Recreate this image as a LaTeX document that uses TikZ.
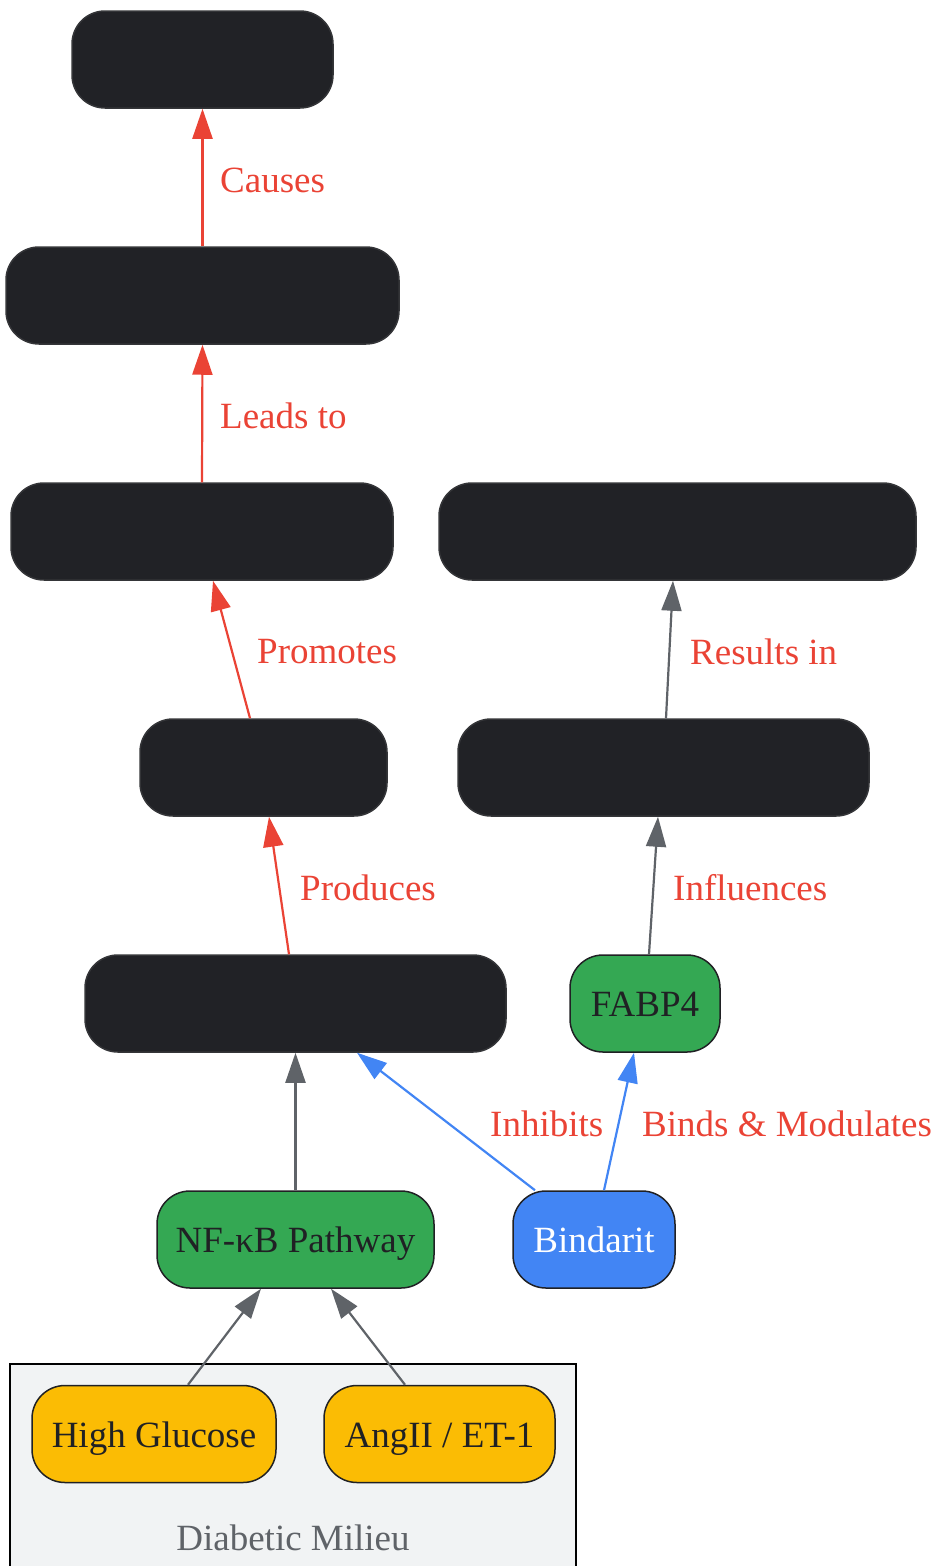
\documentclass[tikz,border=0pt]{standalone}
\usepackage{fontspec}
\setmainfont{Liberation Serif}
\usetikzlibrary{arrows.meta}
\definecolor{darkbox}{HTML}{212226}
\definecolor{gred}{HTML}{EA4335}
\definecolor{ggray}{HTML}{5F6368}
\definecolor{gblue}{HTML}{4285F4}
\definecolor{ggreen}{HTML}{34A853}
\definecolor{gyellow}{HTML}{FBBC04}
\definecolor{clusterbg}{HTML}{F1F3F4}
\definecolor{ink}{HTML}{202124}
\tikzset{
  box/.style={rectangle, rounded corners=33pt, minimum height=97pt, inner sep=0pt, line width=1.5pt, text height=34pt, text depth=8pt, font=\fontsize{37}{44}\selectfont},
  darkb/.style={box, fill=darkbox, draw=darkbox!80!gray},
  greenb/.style={box, fill=ggreen, draw=ink, text=ink},
  blueb/.style={box, fill=gblue, draw=ink, text=white},
  yellowb/.style={box, fill=gyellow, draw=ink, text=ink},
  conn/.style={line width=2.2pt, -{Triangle[length=30pt,width=20pt]}},
  redc/.style={conn, draw=gred, fill=gred},
  grayc/.style={conn, draw=ggray, fill=ggray},
  bluec/.style={conn, draw=gblue, fill=gblue},
  lbl/.style={anchor=west, inner sep=0pt, text=gred, font=\fontsize{37}{44}\selectfont},
}
\begin{document}
\begin{tikzpicture}[x=1pt,y=-1pt]
\useasboundingbox (0,0) rectangle (935,1566);
% cluster
\begin{scope}
\clip (0,0) rectangle (935,1566);
\draw[fill=clusterbg, draw=black, line width=2pt] (10,1364) rectangle (576,1575);
\end{scope}
\node[inner sep=0pt, text=ggray, font=\fontsize{37}{44}\selectfont] (clab) at (293,1538) {Diabetic Milieu};

% nodes
\node[darkb, minimum width=261pt] (top) at (202.5,59.5) {};
\node[darkb, minimum width=393pt] (b2) at (202.5,295.5) {};
\node[darkb, minimum width=382pt] (b3l) at (202,531.5) {};
\node[darkb, minimum width=477pt] (b3r) at (677.5,531.5) {};
\node[darkb, minimum width=247pt] (b4l) at (263.5,767.5) {};
\node[darkb, minimum width=411pt] (b4r) at (663.5,767.5) {};
\node[darkb, minimum width=421pt] (b5l) at (295.5,1003.5) {};
\node[greenb, minimum width=150pt] (fabp) at (645,1003.5) {FABP4};
\node[greenb, minimum width=277pt] (nfkb) at (295.5,1239.5) {NF-κB Pathway};
\node[blueb, minimum width=162pt] (bind) at (594,1239.5) {Bindarit};
\node[yellowb, minimum width=244pt] (hg) at (154,1434) {High Glucose};
\node[yellowb, minimum width=231pt] (ang) at (439.5,1434) {AngII / ET-1};

% connectors
\draw[redc] (b2.north) -- (top.south);
\draw[redc] (b3l.north) -- (b2.south);
\draw[redc] ([xshift=-13.5pt]b4l.north) -- ([xshift=11pt]b3l.south);
\draw[redc] ([xshift=-6.5pt]b5l.north) -- ([xshift=5.5pt]b4l.south);
\draw[grayc] ([xshift=2.5pt]b4r.north) -- ([xshift=-4.5pt]b3r.south);
\draw[grayc] ([xshift=4pt]fabp.north) -- ([xshift=-5.5pt]b4r.south);
\draw[grayc] (nfkb.north) -- (b5l.south);
\draw[bluec] ([xshift=-59pt]bind.north) -- ([xshift=61.5pt]b5l.south);
\draw[bluec] ([xshift=10pt]bind.north) -- ([xshift=-11pt]fabp.south);
\draw[grayc] ([xshift=34pt]hg.north) -- ([xshift=-34.5pt]nfkb.south);
\draw[grayc] ([xshift=-34.5pt]ang.north) -- ([xshift=35.5pt]nfkb.south);

% labels
\node[lbl] (l1) at (220,180) {Causes};
\node[lbl] (l2) at (220,416) {Leads to};
\node[lbl] (l3) at (257,652) {Promotes};
\node[lbl] (l4) at (690,652) {Results in};
\node[lbl] (l5) at (300,888) {Produces};
\node[lbl] (l6) at (673,888) {Influences};
\node[lbl] (l7) at (490,1124) {Inhibits};
\node[lbl] (l8) at (642,1124) {Binds \& Modulates};
\end{tikzpicture}
\end{document}
